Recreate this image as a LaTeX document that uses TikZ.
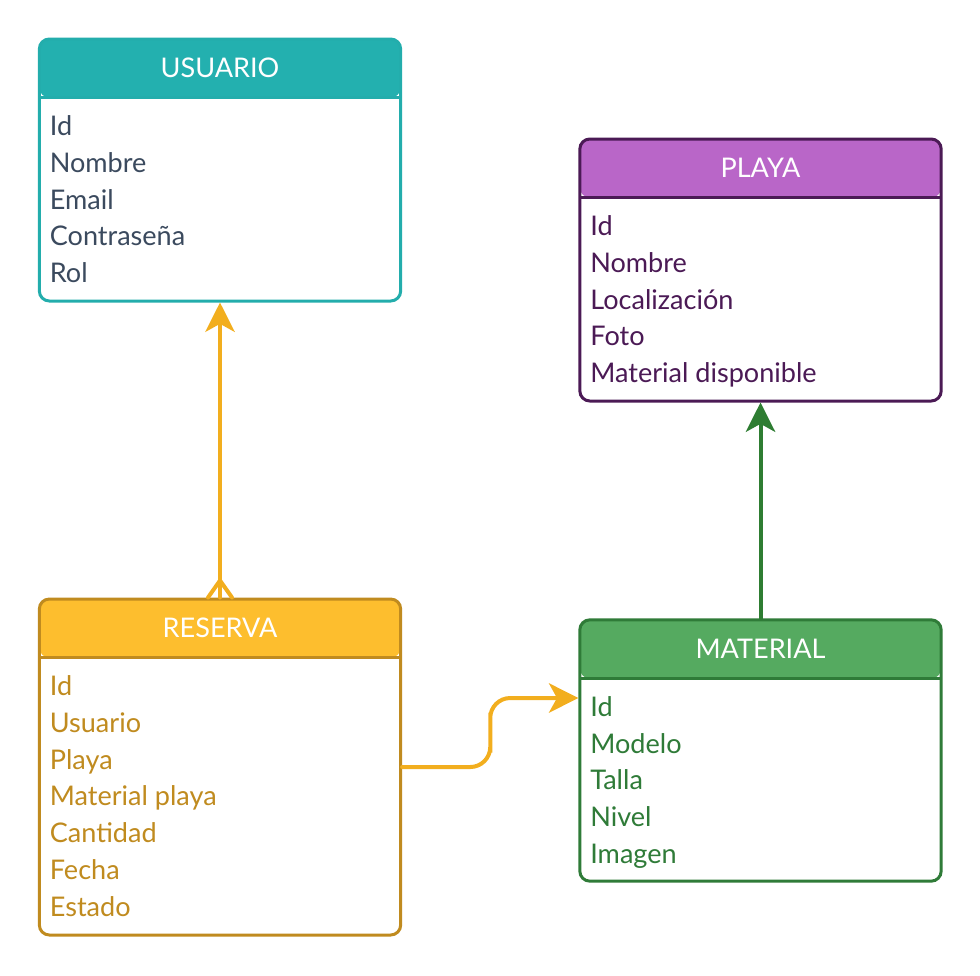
\documentclass[tikz,border=0pt]{standalone}
\usepackage{fontspec}
\setmainfont{Lato}
\usetikzlibrary{arrows.meta,calc}

\definecolor{usuariohead}{HTML}{23B0AF}
\definecolor{usuarioline}{HTML}{23ADAC}
\definecolor{usuariotext}{HTML}{3B4A5E}
\definecolor{playahead}{HTML}{B966C8}
\definecolor{playaline}{HTML}{4B1A55}
\definecolor{reservahead}{HTML}{FDBE2E}
\definecolor{reservaline}{HTML}{C08B1F}
\definecolor{materialhead}{HTML}{55AA60}
\definecolor{materialline}{HTML}{2F7B38}
\definecolor{relorange}{HTML}{F2AE1E}
\definecolor{relgreen}{HTML}{2E7D32}

\begin{document}
\begin{tikzpicture}
		[x=0.75pt, y=-0.75pt,
		every node/.style={font=\fontsize{20.3}{24}\selectfont},
		entity/.style n args={2}{draw=#2, fill=white, line width=2.25pt,
			rounded corners=7.5pt, minimum width=271pt, inner sep=0pt,
			path picture={
				\fill[#1] (path picture bounding box.north west) rectangle
					([yshift=-44pt]path picture bounding box.north east);
				\draw[#2, line width=2.25pt] ([xshift=-2pt, yshift=-44pt]path picture bounding box.north west) --
					([xshift=2pt, yshift=-44pt]path picture bounding box.north east);
			}},
		title/.style={text=white, inner sep=0pt},
		field/.style={anchor=base west, inner sep=0pt},
		rel/.style={line width=3pt, line cap=round},
		tip/.style={-{Stealth[length=22pt, width=22pt, inset=6pt]}},
		]

		\useasboundingbox (0,0) rectangle (980,975);

		% tablas
		\node[entity={usuariohead}{usuarioline}, minimum height=196.5pt] (usuario) at (220,170) {};
		\node[entity={playahead}{playaline}, minimum height=196.5pt] (playa) at (760.5,270) {};
		\node[entity={reservahead}{reservaline}, minimum height=252pt] (reserva) at (220,767) {};
		\node[entity={materialhead}{materialline}, minimum height=196pt] (material) at (760.5,750.5) {};

		% cabeceras
		\node[title] (usuario-title) at ([yshift=-23pt]usuario.north) {USUARIO};
		\node[title] (playa-title) at ([yshift=-23pt]playa.north) {PLAYA};
		\node[title] (reserva-title) at ([yshift=-23pt]reserva.north) {RESERVA};
		\node[title] (material-title) at ([yshift=-23pt]material.north) {MATERIAL};

		% campos
		\foreach \f [count=\i, evaluate=\i as \dy using -73.5-(\i-1)*27.6] in {Id,Nombre,Email,Contraseña,Rol}
			\node[field, text=usuariotext] (usuario-\i) at ([xshift=8.8pt, yshift=\dy pt]usuario.north west) {\f};
		\foreach \f [count=\i, evaluate=\i as \dy using -73.5-(\i-1)*27.6] in {Id,Nombre,Localización,Foto,Material disponible}
			\node[field, text=playaline] (playa-\i) at ([xshift=8.8pt, yshift=\dy pt]playa.north west) {\f};
		\foreach \f [count=\i, evaluate=\i as \dy using -73.5-(\i-1)*27.6] in {Id,Usuario,Playa,Material playa,Cantidad,Fecha,Estado}
			\node[field, text=reservaline] (reserva-\i) at ([xshift=8.8pt, yshift=\dy pt]reserva.north west) {\f};
		\foreach \f [count=\i, evaluate=\i as \dy using -73.5-(\i-1)*27.6] in {Id,Modelo,Talla,Nivel,Imagen}
			\node[field, text=materialline] (material-\i) at ([xshift=8.8pt, yshift=\dy pt]material.north west) {\f};

		% relaciones
		\coordinate (foot) at ($(reserva.north)+(0,-17)$);
		\draw[rel, relorange, tip] (reserva.north) -- (usuario.south);
		\draw[rel, relorange] (foot) -- ($(reserva.north)+(-12,0)$)
			(foot) -- ($(reserva.north)+(12,0)$);

		\coordinate (matin) at ($(material.west)+(0,-52.5)$);
		\draw[rel, relorange, tip, rounded corners=15pt] (reserva.east)
			-| ($(reserva.east)!0.5!(matin)$) |- (matin);

		\draw[rel, relgreen, tip] (material.north) -- (playa.south);
	\end{tikzpicture}
\end{document}
